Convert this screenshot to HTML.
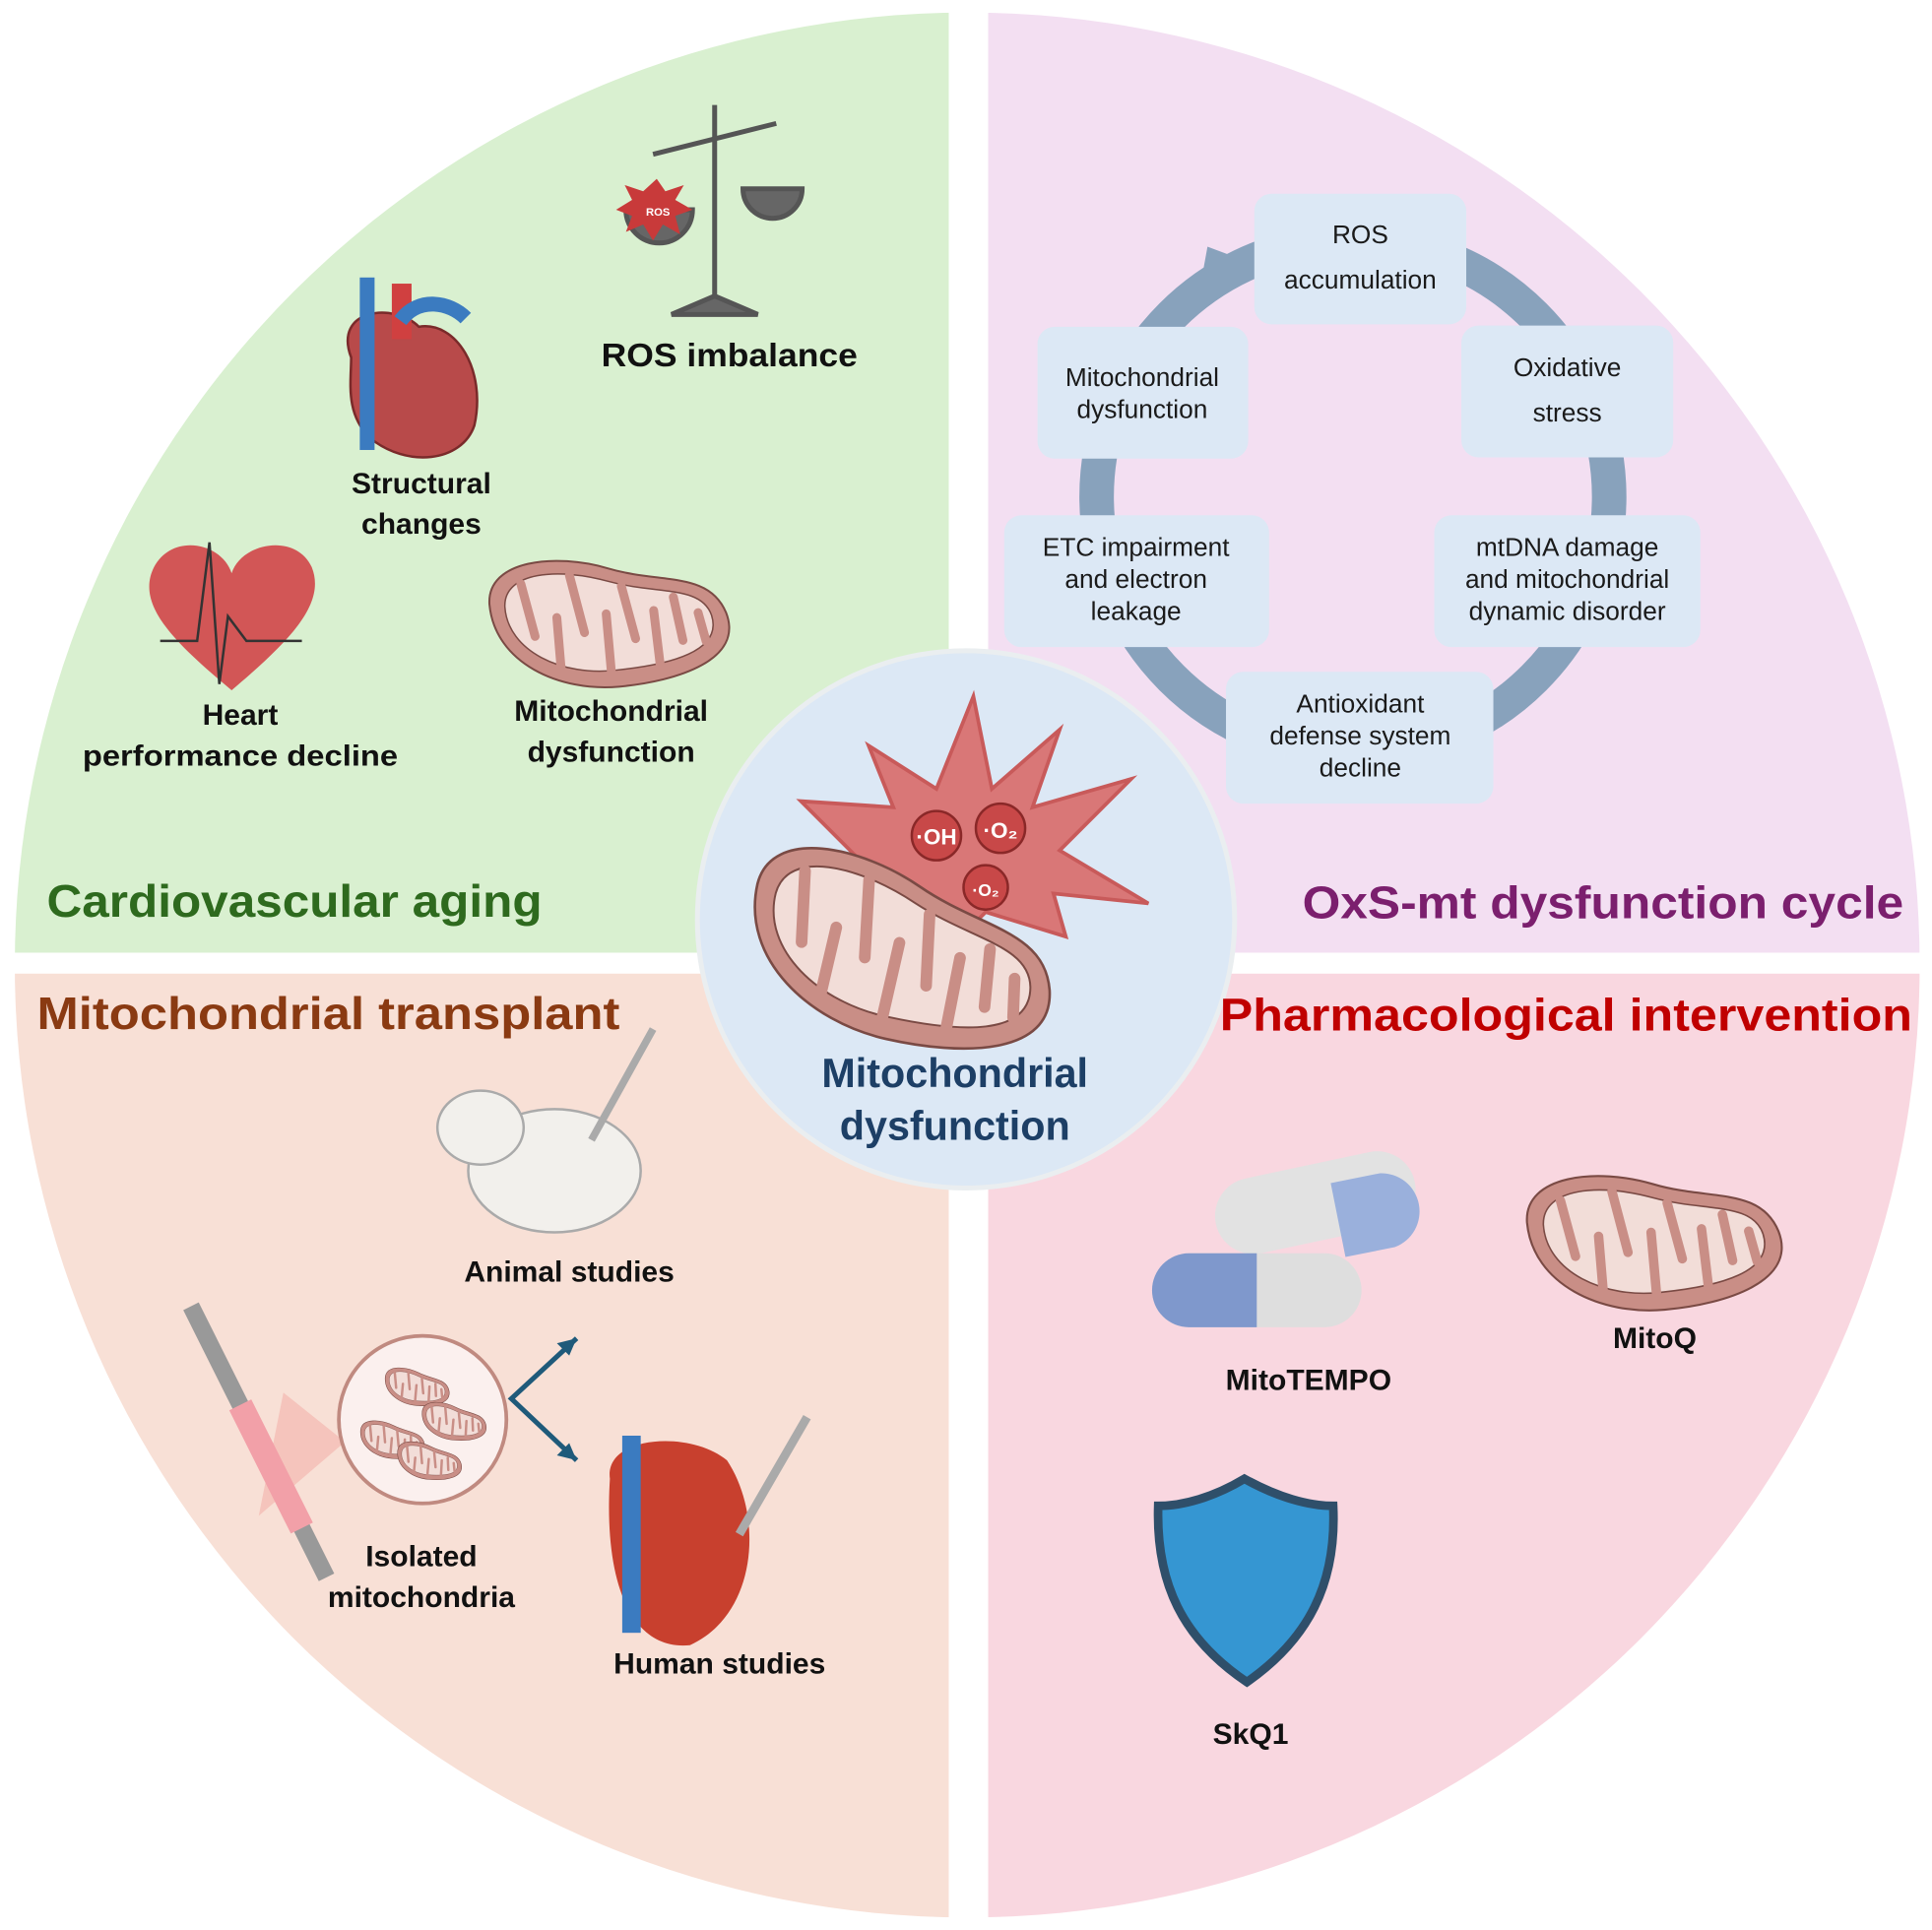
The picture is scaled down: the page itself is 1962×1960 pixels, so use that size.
<!DOCTYPE html>
<html><head><meta charset="utf-8"><style>
html,body{margin:0;padding:0;background:#fff}
svg{display:block}
text{font-family:"Liberation Sans",sans-serif}
</style></head><body>
<svg width="1962" height="1960" viewBox="0 0 1568 1566" xmlns="http://www.w3.org/2000/svg">
<defs>
<clipPath id="c"><circle cx="785" cy="783" r="773"/></clipPath>
<g id="mito">
<path d="M-115,-30 C-110,-75 -40,-70 10,-45 C60,-20 110,-25 120,20 C130,70 60,80 0,75 C-60,70 -120,30 -115,-30Z" fill="#c98e86" stroke="#7a4a44" stroke-width="2"/>
<path d="M-100,-25 C-95,-60 -40,-55 8,-32 C55,-10 100,-12 105,20 C110,58 55,62 0,58 C-55,55 -105,20 -100,-25Z" fill="#f2ddd8" stroke="#7a4a44" stroke-width="1.5"/>
<g stroke="#c98e86" stroke-width="9" stroke-linecap="round">
<line x1="-80" y1="-45" x2="-75" y2="10"/><line x1="-55" y1="50" x2="-50" y2="-5"/><line x1="-30" y1="-45" x2="-25" y2="15"/><line x1="-5" y1="58" x2="0" y2="0"/><line x1="20" y1="-25" x2="25" y2="30"/><line x1="45" y1="60" x2="48" y2="5"/><line x1="70" y1="-5" x2="72" y2="40"/><line x1="95" y1="45" x2="92" y2="15"/>
</g>
</g>
</defs>
<g clip-path="url(#c)">
<rect x="0" y="0" width="770" height="773" fill="#d9f0d0"/>
<rect x="802" y="0" width="800" height="773" fill="#f3dff2"/>
<rect x="0" y="790" width="770" height="800" fill="#f8e0d6"/>
<rect x="802" y="790" width="800" height="800" fill="#f9d7e0"/>
</g>
<!-- cycle -->
<circle cx="1098" cy="403" r="208" fill="none" stroke="#88a2bc" stroke-width="28"/>
<polygon points="1012,212 980,200 970,255" fill="#88a2bc"/>
<g fill="#dce8f5">
<rect x="1018" y="157" width="172" height="106" rx="14"/>
<rect x="842" y="265" width="171" height="107" rx="14"/>
<rect x="1186" y="264" width="172" height="107" rx="14"/>
<rect x="815" y="418" width="215" height="107" rx="14"/>
<rect x="1164" y="418" width="216" height="107" rx="14"/>
<rect x="995" y="545" width="217" height="107" rx="14"/>
</g>
<g font-size="21" fill="#1a1a1a" text-anchor="middle">
<text x="1104" y="197">ROS</text><text x="1104" y="234">accumulation</text>
<text x="927" y="313">Mitochondrial</text><text x="927" y="339">dysfunction</text>
<text x="1272" y="305">Oxidative</text><text x="1272" y="342">stress</text>
<text x="922" y="451">ETC impairment</text><text x="922" y="477">and electron</text><text x="922" y="503">leakage</text>
<text x="1272" y="451">mtDNA damage</text><text x="1272" y="477">and mitochondrial</text><text x="1272" y="503">dynamic disorder</text>
<text x="1104" y="578">Antioxidant</text><text x="1104" y="604">defense system</text><text x="1104" y="630">decline</text>
</g>
<!-- center -->
<circle cx="784" cy="746" r="218" fill="#dce8f5" stroke="#eaeef0" stroke-width="4"/>
<polygon points="790,565 805,640 860,592 838,655 918,632 860,690 932,733 855,725 865,760 800,740 770,770 700,700 650,650 725,655 705,605 760,640" fill="#d97777" stroke="#c85a5a" stroke-width="3"/>
<g fill="#c84848" stroke="#8a2828" stroke-width="2"><circle cx="760" cy="678" r="20"/><circle cx="812" cy="672" r="20"/><circle cx="800" cy="720" r="18"/></g>
<g fill="#fff" font-weight="bold" text-anchor="middle"><text x="760" y="685" font-size="18">·OH</text><text x="812" y="680" font-size="18">·O₂</text><text x="800" y="727" font-size="14">·O₂</text></g>
<use href="#mito" transform="translate(730,765) rotate(8) scale(1.05)"/>
<g font-size="33" font-weight="bold" fill="#1d3f66" text-anchor="middle"><text x="775" y="882">Mitochondrial</text><text x="775" y="925">dysfunction</text></g>
<!-- TL -->
<text x="38" y="744" font-size="37" font-weight="bold" fill="#2e6a1e" textLength="402" lengthAdjust="spacingAndGlyphs">Cardiovascular aging</text>
<g font-size="24" font-weight="bold" fill="#111" text-anchor="middle">
<text x="592" y="297" font-size="27" textLength="208" lengthAdjust="spacingAndGlyphs">ROS imbalance</text>
<text x="342" y="400">Structural</text><text x="342" y="433">changes</text>
<text x="195" y="588">Heart</text><text x="195" y="621" textLength="256" lengthAdjust="spacingAndGlyphs">performance decline</text>
<text x="496" y="585">Mitochondrial</text><text x="496" y="618">dysfunction</text>
</g>
<!-- scale -->
<g stroke="#555" stroke-width="4" fill="#666"><line x1="580" y1="85" x2="580" y2="245"/><line x1="530" y1="125" x2="630" y2="100"/><polygon points="545,255 615,255 580,240"/><path d="M508,170 a27,27 0 0 0 54,0Z"/><path d="M603,153 a24,24 0 0 0 48,0Z"/></g>
<polygon points="533,145 540,155 555,150 548,162 562,170 548,175 552,190 538,182 530,195 522,182 508,188 513,175 500,170 513,162 507,150 522,155" fill="#c83a3a"/>
<text x="534" y="175" font-size="9" fill="#fff" font-weight="bold" text-anchor="middle">ROS</text>
<!-- heart anatomical -->
<path d="M285,290 C270,250 320,245 340,265 C370,260 395,300 385,345 C375,375 330,380 300,355 C280,335 285,310 285,290Z" fill="#b84a4a" stroke="#7a2a2a" stroke-width="2"/>
<rect x="292" y="225" width="12" height="140" fill="#3b7bc0"/><rect x="318" y="230" width="16" height="45" fill="#d04040"/>
<path d="M325,260 C340,240 365,245 378,258" stroke="#3b7bc0" stroke-width="12" fill="none"/>
<!-- ecg heart -->
<path d="M188,560 C140,520 110,490 125,460 C140,432 180,440 188,465 C196,440 240,432 253,460 C265,490 235,520 188,560Z" fill="#d25656"/>
<polyline points="130,520 160,520 170,440 178,555 185,500 200,520 245,520" fill="none" stroke="#333" stroke-width="2"/>
<use href="#mito" transform="translate(492,498) rotate(-10) scale(0.8)"/>
<!-- TR title -->
<text x="1545" y="745" font-size="37" font-weight="bold" fill="#7b1f6e" text-anchor="end" textLength="488" lengthAdjust="spacingAndGlyphs">OxS-mt dysfunction cycle</text>
<!-- BL -->
<text x="30" y="835" font-size="37" font-weight="bold" fill="#8a3a12" textLength="473" lengthAdjust="spacingAndGlyphs">Mitochondrial transplant</text>
<g font-size="24" font-weight="bold" fill="#111" text-anchor="middle">
<text x="462" y="1040">Animal studies</text>
<text x="342" y="1271">Isolated</text><text x="342" y="1304">mitochondria</text>
<text x="584" y="1358">Human studies</text>
</g>
<ellipse cx="450" cy="950" rx="70" ry="50" fill="#f2f0ec" stroke="#aaa" stroke-width="2"/>
<ellipse cx="390" cy="915" rx="35" ry="30" fill="#f2f0ec" stroke="#aaa" stroke-width="2"/>
<line x1="480" y1="925" x2="530" y2="835" stroke="#aaa" stroke-width="6"/>
<polygon points="280,1170 230,1130 210,1230" fill="#f4b8b0" opacity="0.7"/>
<circle cx="343" cy="1152" r="68" fill="#fbf0ee" stroke="#c08a80" stroke-width="3"/>
<g transform="translate(343,1152)">
<use href="#mito" transform="translate(-5,-28) scale(0.22)"/>
<use href="#mito" transform="translate(25,0) scale(0.22)"/>
<use href="#mito" transform="translate(-25,15) scale(0.22)"/>
<use href="#mito" transform="translate(5,32) scale(0.22)"/>
</g>
<line x1="155" y1="1060" x2="265" y2="1280" stroke="#999" stroke-width="14"/>
<line x1="195" y1="1140" x2="245" y2="1240" stroke="#f2a0a8" stroke-width="20"/>
<polyline points="468,1086 415,1135 468,1185" fill="none" stroke="#1f5a7a" stroke-width="4"/>
<polygon points="468,1086 452,1090 462,1100" fill="#1f5a7a"/>
<polygon points="468,1185 452,1181 462,1171" fill="#1f5a7a"/>
<path d="M495,1200 C490,1165 560,1160 590,1185 C620,1230 615,1310 560,1335 C510,1340 490,1280 495,1200Z" fill="#c8402e"/>
<rect x="505" y="1165" width="15" height="160" fill="#3b7bc0"/>
<line x1="600" y1="1245" x2="655" y2="1150" stroke="#aaa" stroke-width="7"/>
<!-- BR -->
<text x="1552" y="836" font-size="37" font-weight="bold" fill="#c00000" text-anchor="end" textLength="562" lengthAdjust="spacingAndGlyphs">Pharmacological intervention</text>
<g font-size="24" font-weight="bold" fill="#111" text-anchor="middle">
<text x="1062" y="1128">MitoTEMPO</text><text x="1343" y="1094">MitoQ</text><text x="1015" y="1415">SkQ1</text>
</g>
<rect x="985" y="945" width="165" height="62" rx="31" fill="#e2e2e2" transform="rotate(-12 1067 976)"/>
<path d="M1080,960 l40,-8 a31,31 0 0 1 12,60 l-40,8Z" fill="#9ab0dc"/>
<rect x="935" y="1017" width="170" height="60" rx="30" fill="#dedede"/>
<path d="M965,1017 h55 v60 h-55 a30,30 0 0 1 0,-60Z" fill="#7f98cc"/>
<use href="#mito" transform="translate(1340,1000) rotate(-10) scale(0.85)"/>
<path d="M1010,1200 C985,1215 960,1222 940,1222 C938,1285 960,1330 1012,1365 C1062,1330 1085,1285 1082,1222 C1062,1222 1037,1215 1010,1200Z" fill="#3596d2" stroke="#2f4f6a" stroke-width="7"/>
</svg>
</body></html>
